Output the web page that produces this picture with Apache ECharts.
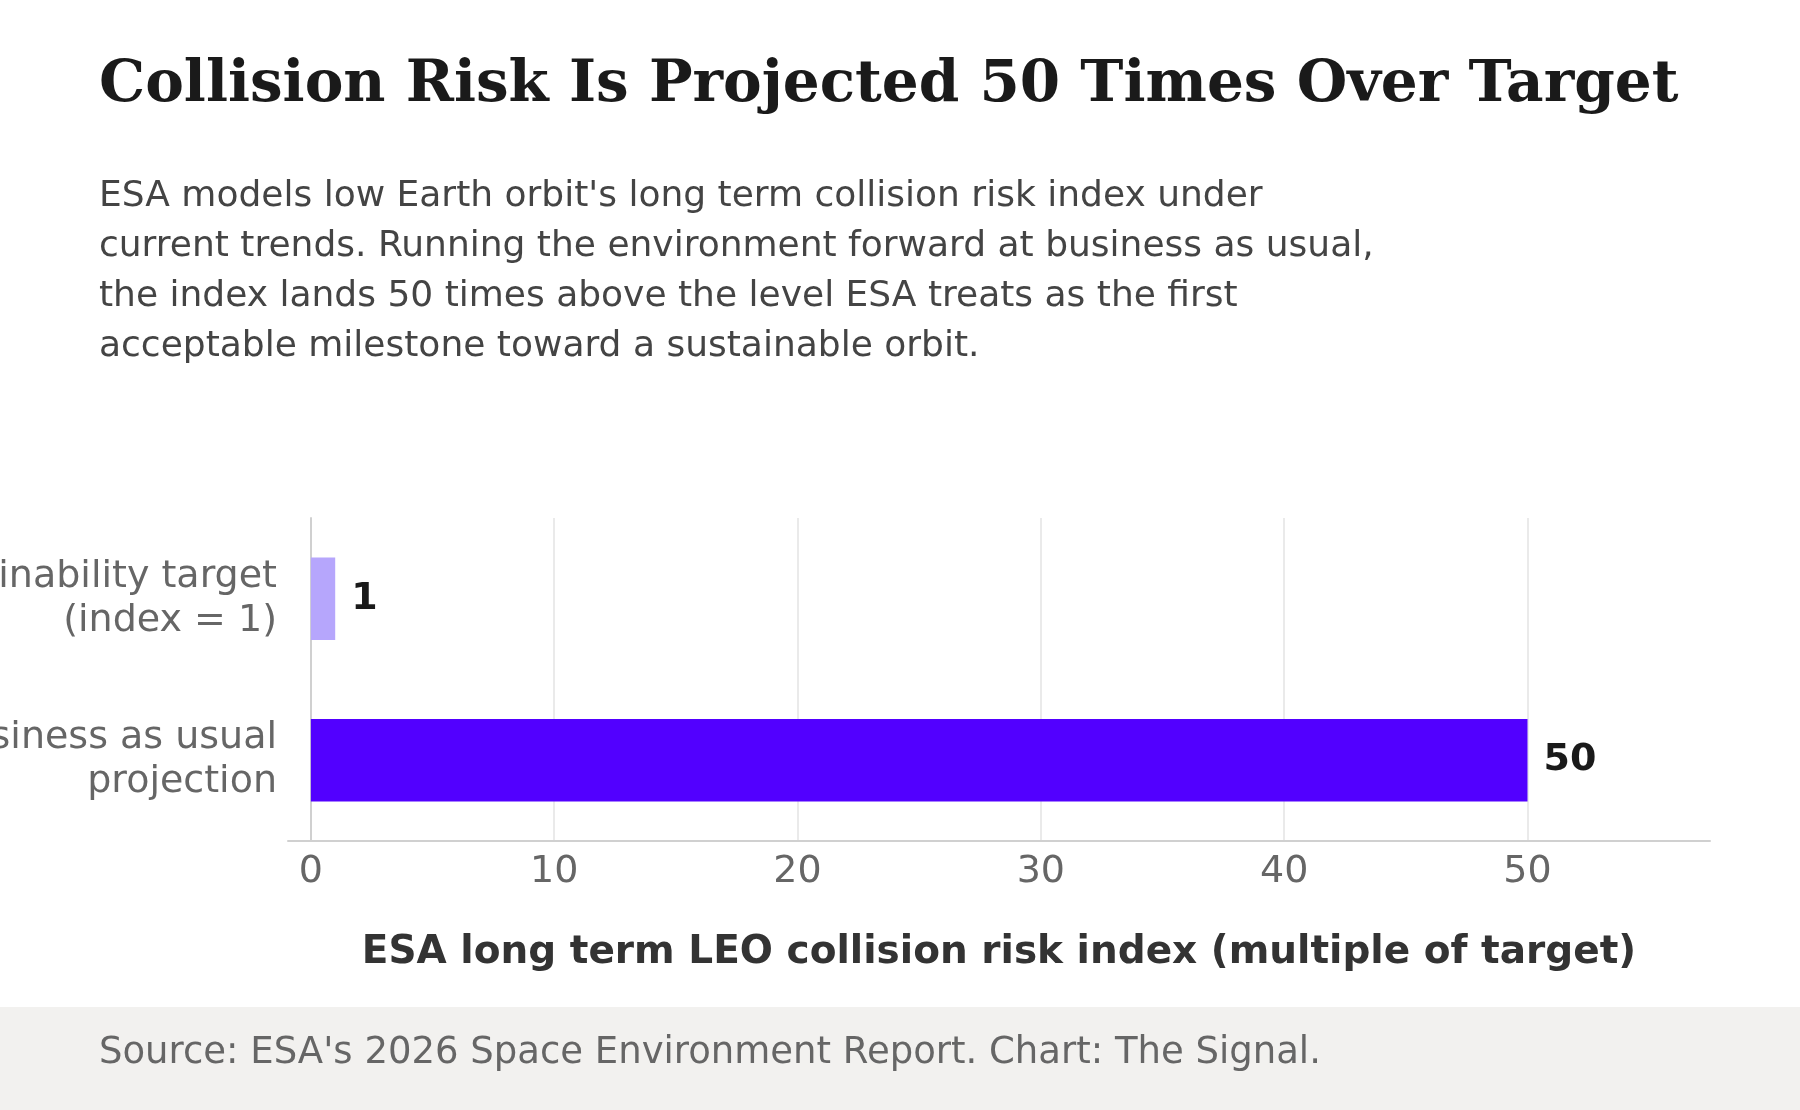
<!DOCTYPE html>
<html>
<head>
<meta charset="utf-8">
<script src="https://cdn.jsdelivr.net/npm/echarts@6/dist/echarts.min.js"></script>
<style>
  html, body { margin: 0; padding: 0; background: #fff; }
  #chart { width: 1800px; height: 1110px; }
</style>
</head>
<body>
<div id="chart"></div>
<script>
const categories = ['Sustainability target\n(index = 1)', 'Business as usual\nprojection']
const values = [1, 50]
const barColors = ['#b6a6fc', '#5200ff']
const xTicks = [0, 10, 20, 30, 40, 50]

const subtitle = "ESA models low Earth orbit's long term collision risk index under\n" +
    "current trends. Running the environment forward at business as usual,\n" +
    "the index lands 50 times above the level ESA treats as the first\n" +
    "acceptable milestone toward a sustainable orbit."

const chart = echarts.init(document.getElementById('chart'))

chart.setOption({
    animation: false,
    backgroundColor: '#ffffff',
    title: {
        text: 'Collision Risk Is Projected 50 Times Over Target',
        left: 94,
        top: 52,
        textStyle: {
            fontFamily: 'DejaVu Serif',
            fontWeight: 'bold',
            fontSize: 58,
            color: '#1a1a1a'
        }
    },
    graphic: [
        {
            type: 'text',
            left: 99,
            top: 172,
            style: {
                text: subtitle,
                fontFamily: 'DejaVu Sans',
                fontSize: 36,
                lineHeight: 50,
                fill: '#444444'
            }
        },
        {
            type: 'rect',
            left: 0,
            top: 1007,
            shape: { width: 1800, height: 103 },
            style: { fill: '#f2f1ef' }
        },
        {
            type: 'text',
            left: 99,
            top: 1035,
            style: {
                text: "Source: ESA's 2026 Space Environment Report. Chart: The Signal.",
                fontFamily: 'DejaVu Sans',
                fontSize: 37,
                fill: '#666666'
            }
        }
    ],
    grid: { left: 288, right: 90, top: 518, bottom: 269, outerBoundsMode: 'none', containLabel: false },
    xAxis: {
        type: 'value',
        min: -0.94,
        max: 57.5,
        axisLine: { show: true, lineStyle: { color: '#d0d0d0', width: 2 } },
        axisTick: { show: false, customValues: xTicks },
        axisLabel: {
            customValues: xTicks,
            fontFamily: 'DejaVu Sans',
            fontSize: 38,
            color: '#666666',
            margin: 12
        },
        splitLine: { show: true, lineStyle: { color: '#e3e3e3', width: 1.5 } },
        name: 'ESA long term LEO collision risk index (multiple of target)',
        nameLocation: 'middle',
        nameGap: 92,
        nameTextStyle: {
            fontFamily: 'DejaVu Sans',
            fontWeight: 'bold',
            fontSize: 39,
            color: '#333333'
        }
    },
    yAxis: {
        type: 'category',
        inverse: true,
        data: categories,
        axisLine: { show: true, lineStyle: { color: '#d0d0d0', width: 2 } },
        axisTick: { show: false },
        axisLabel: {
            fontFamily: 'DejaVu Sans',
            fontSize: 38,
            lineHeight: 44,
            color: '#666666',
            margin: 11,
            align: 'right'
        }
    },
    series: [{
        type: 'bar',
        data: values.map((v, i) => ({ value: v, itemStyle: { color: barColors[i] } })),
        barCategoryGap: '49%',
        label: {
            show: true,
            position: 'right',
            distance: 16,
            fontFamily: 'DejaVu Sans',
            fontWeight: 'bold',
            fontSize: 38,
            color: '#1a1a1a'
        }
    }]
})
</script>
</body>
</html>
